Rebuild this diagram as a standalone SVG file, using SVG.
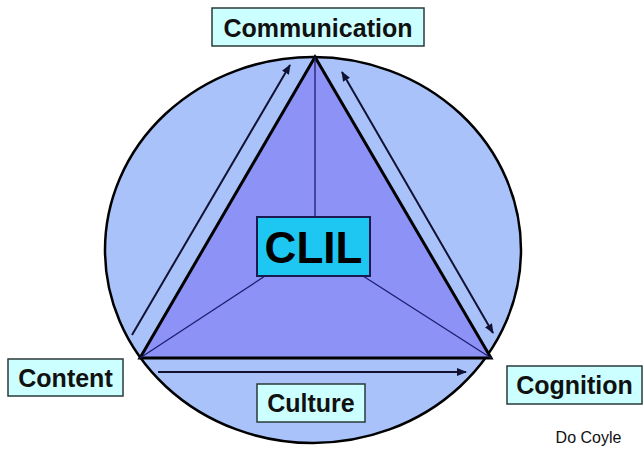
<svg xmlns="http://www.w3.org/2000/svg" width="644" height="449" viewBox="0 0 644 449">
<style>
.lbl{fill:#ccffff;stroke:#2a3a3a;stroke-width:1.5}
.lt{font-family:"Liberation Sans",Arial,sans-serif;font-weight:bold;font-size:25px;fill:#111;text-anchor:middle}
.spoke{stroke:#1c1c70;stroke-width:1.3;fill:none}
.arr{stroke:#111133;stroke-width:2;fill:none}
</style>
<defs>
<marker id="ah" viewBox="0 0 10 10" refX="9" refY="5" markerWidth="5" markerHeight="5" orient="auto-start-reverse">
<path d="M0,1 L10,5 L0,9 z" fill="#111133"/>
</marker>
</defs>
<rect width="644" height="449" fill="#fff"/>
<g id="circle">
<ellipse cx="313" cy="250" rx="208" ry="193" fill="#a9c3fa" stroke="#000" stroke-width="2.5"/>
</g>
<g id="triangle">
<polygon points="315,57 140,358 491,358" fill="#8d92f6" stroke="#000" stroke-width="3" stroke-linejoin="miter"/>
</g>
<g id="connectors">
<line class="spoke" x1="315" y1="57" x2="315" y2="217"/>
<line class="spoke" x1="265" y1="276" x2="140" y2="358"/>
<line class="spoke" x1="363" y1="276" x2="491" y2="358"/>
<line class="arr" x1="132" y1="335" x2="290" y2="65" marker-end="url(#ah)"/>
<line class="arr" x1="342" y1="72" x2="493" y2="333" marker-start="url(#ah)" marker-end="url(#ah)"/>
<line class="arr" x1="158" y1="372" x2="466" y2="372" marker-end="url(#ah)"/>
</g>
<g id="clil">
<rect x="257" y="217" width="113" height="59" fill="#1ec6f2" stroke="#1a1a50" stroke-width="2"/>
<text x="313.5" y="263" font-family="'Liberation Sans',Arial,sans-serif" font-weight="bold" font-size="44" text-anchor="middle" fill="#000">CLIL</text>
</g>
<g id="communication">
<rect class="lbl" x="212" y="8" width="212" height="38"/>
<text class="lt" x="318" y="37">Communication</text>
</g>
<g id="content">
<rect class="lbl" x="8" y="359" width="115" height="37"/>
<text class="lt" x="65.5" y="387">Content</text>
</g>
<g id="cognition">
<rect class="lbl" x="507" y="366" width="135" height="38"/>
<text class="lt" x="574.5" y="394">Cognition</text>
</g>
<g id="culture">
<rect class="lbl" x="257" y="384" width="108" height="38"/>
<text class="lt" x="311" y="412">Culture</text>
</g>
<text x="588.5" y="443" font-family="'Liberation Sans',Arial,sans-serif" font-size="16" text-anchor="middle" fill="#111">Do Coyle</text>
</svg>
